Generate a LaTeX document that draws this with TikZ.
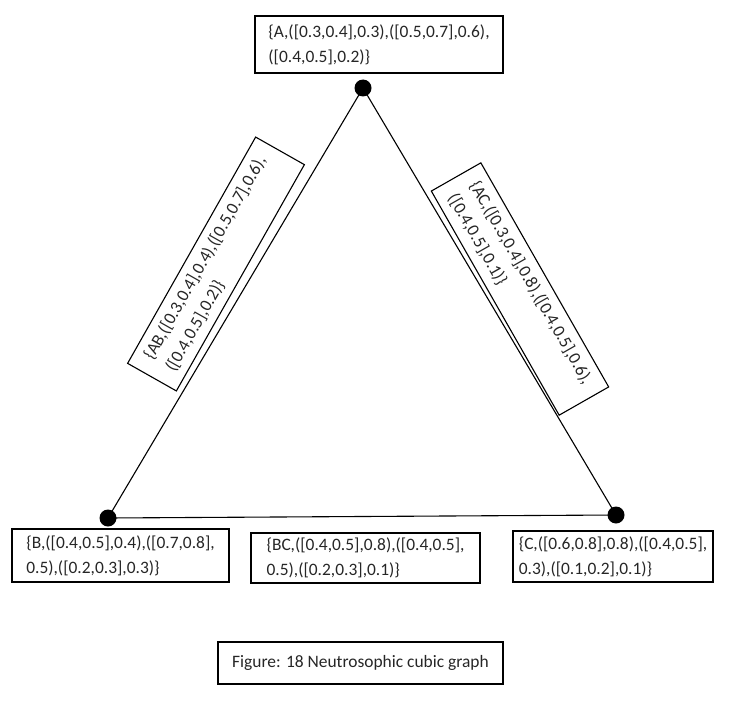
\documentclass[tikz,border=0pt]{standalone}
\usepackage{fontspec}
\setmainfont{Carlito}
\begin{document}
\begin{tikzpicture}[x=1bp,y=-1bp,
 lbl/.style={draw, line width=1.1bp, align=left, font=\fontsize{17.5}{25}\selectfont, inner sep=2bp, text=black!85},
 vtx/.style={circle, fill=black, minimum size=17bp, inner sep=0pt},
 edgeline/.style={line width=1.1bp}]
\useasboundingbox (0,0) rectangle (747,703);
\node[vtx] (A) at (363,88) {};
\node[vtx] (B) at (108,518) {};
\node[vtx] (C) at (616,515) {};
\draw[edgeline] (A.center) -- (B.center);
\draw[edgeline] (A.center) -- (C.center);
\draw[edgeline] (B.center) -- (C.center);
\node[lbl, minimum width=248bp, minimum height=57bp] (la) at (379,44.5) {\{A,([0.3,0.4],0.3),([0.5,0.7],0.6),\\([0.4,0.5],0.2)\}};
\node[lbl, minimum width=217bp, minimum height=53bp] (lb) at (120.5,555.5) {\{B,([0.4,0.5],0.4),([0.7,0.8],\\0.5),([0.2,0.3],0.3)\}};
\node[lbl, minimum width=229bp, minimum height=50bp] (lbc) at (365.5,558) {\{BC,([0.4,0.5],0.8),([0.4,0.5],\\0.5),([0.2,0.3],0.1)\}};
\node[lbl, minimum width=200bp, minimum height=51bp] (lc) at (613,556.5) {\{C,([0.6,0.8],0.8),([0.4,0.5],\\0.3),([0.1,0.2],0.1)\}};
\node[lbl, rotate=60.5, minimum width=260bp, minimum height=56bp] (lab) at (216,264) {\{AB,([0.3,0.4],0.4),([0.5,0.7],0.6),\\([0.4,0.5],0.2)\}};
\node[lbl, rotate=-60.3, minimum width=258bp, minimum height=57bp] (lac) at (520,289) {\{AC,([0.3,0.4],0.8),([0.4,0.5],0.6),\\([0.4,0.5],0.1)\}};
\node[lbl, minimum width=285bp, minimum height=42bp] (cap) at (360.5,663) {Figure: 18 Neutrosophic cubic graph};
\end{tikzpicture}
\end{document}
